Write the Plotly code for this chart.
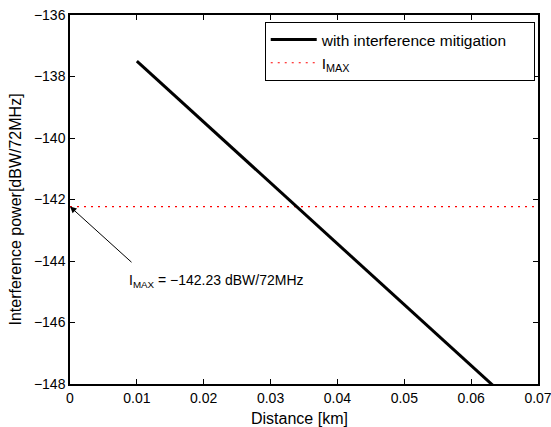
import plotly.graph_objects as go

distance_km = [0.01, 0.02, 0.03, 0.04, 0.05, 0.06, 0.07]
power_dbw = [-137.5, -139.48, -141.46, -143.44, -145.42, -147.4, -149.38]
i_max = -142.23
x_range = [0, 0.07]
y_range = [-148, -136]
x_tickvals = [0, 0.01, 0.02, 0.03, 0.04, 0.05, 0.06, 0.07]
x_ticktext = ["0", "0.01", "0.02", "0.03", "0.04", "0.05", "0.06", "0.07"]
y_tickvals = [-148, -146, -144, -142, -140, -138, -136]
y_ticktext = ["\u2212148", "\u2212146", "\u2212144", "\u2212142", "\u2212140", "\u2212138", "\u2212136"]

font = "Liberation Sans, Arial, sans-serif"
pad = "\u00a0" * 5

fig = go.Figure()
fig.add_trace(go.Scatter(x=x_range, y=[i_max, i_max], mode="lines",
                         name="I<sub>MAX</sub>",
                         line=dict(color="red", width=1.2, dash="2px,5px")))
fig.add_trace(go.Scatter(x=distance_km, y=power_dbw, mode="lines",
                         name="with interference mitigation" + pad,
                         line=dict(color="black", width=3)))

fig.add_annotation(x=0, y=i_max, xref="x", yref="y", text="",
                   showarrow=True, arrowhead=2, arrowsize=1.3, arrowwidth=1,
                   arrowcolor="black", ax=63, ay=57)
fig.add_annotation(x=0.0085, y=-144.65, xref="x", yref="y",
                   text="I<sub>MAX</sub> = \u2212142.23 dBW/72MHz",
                   showarrow=False, xanchor="left", yanchor="middle",
                   font=dict(size=14, color="black", family=font))

# axis titles
fig.add_annotation(x=0.5, y=0, xref="paper", yref="paper", yshift=-34, xshift=-5,
                   text="Distance [km]", showarrow=False,
                   xanchor="center", yanchor="middle",
                   font=dict(size=16, color="black", family=font))
fig.add_annotation(x=0, y=0.5, xref="paper", yref="paper", xshift=-55, yshift=-10,
                   text="Interference power[dBW/72MHz]", showarrow=False, textangle=-90,
                   xanchor="center", yanchor="middle",
                   font=dict(size=16, color="black", family=font))

axis_common = dict(showline=True, linecolor="black", linewidth=1.5, mirror="ticks",
                   ticks="inside", ticklen=5, tickcolor="black", showgrid=False,
                   zeroline=False, automargin=False, ticklabeloverflow="allow",
                   tickfont=dict(size=14, color="black", family=font))

fig.update_xaxes(range=x_range, tickmode="array", tickvals=x_tickvals, ticktext=x_ticktext,
                 **axis_common)
fig.update_yaxes(range=y_range, tickmode="array", tickvals=y_tickvals, ticktext=y_ticktext,
                 **axis_common)

fig.update_layout(
    width=551, height=427,
    margin=dict(l=70, r=13, t=15, b=43),
    paper_bgcolor="white", plot_bgcolor="white",
    font=dict(family=font, color="black"),
    legend=dict(x=0.993, y=0.981, xanchor="right", yanchor="top",
                bgcolor="white", bordercolor="black", borderwidth=1,
                font=dict(size=15.5, color="black", family=font),
                itemwidth=46,
                traceorder="reversed", tracegroupgap=0),
    showlegend=True,
)

fig.write_html("out.html", config={"displayModeBar": False},
               post_script="document.body.style.margin='0';document.body.style.overflow='hidden';")
